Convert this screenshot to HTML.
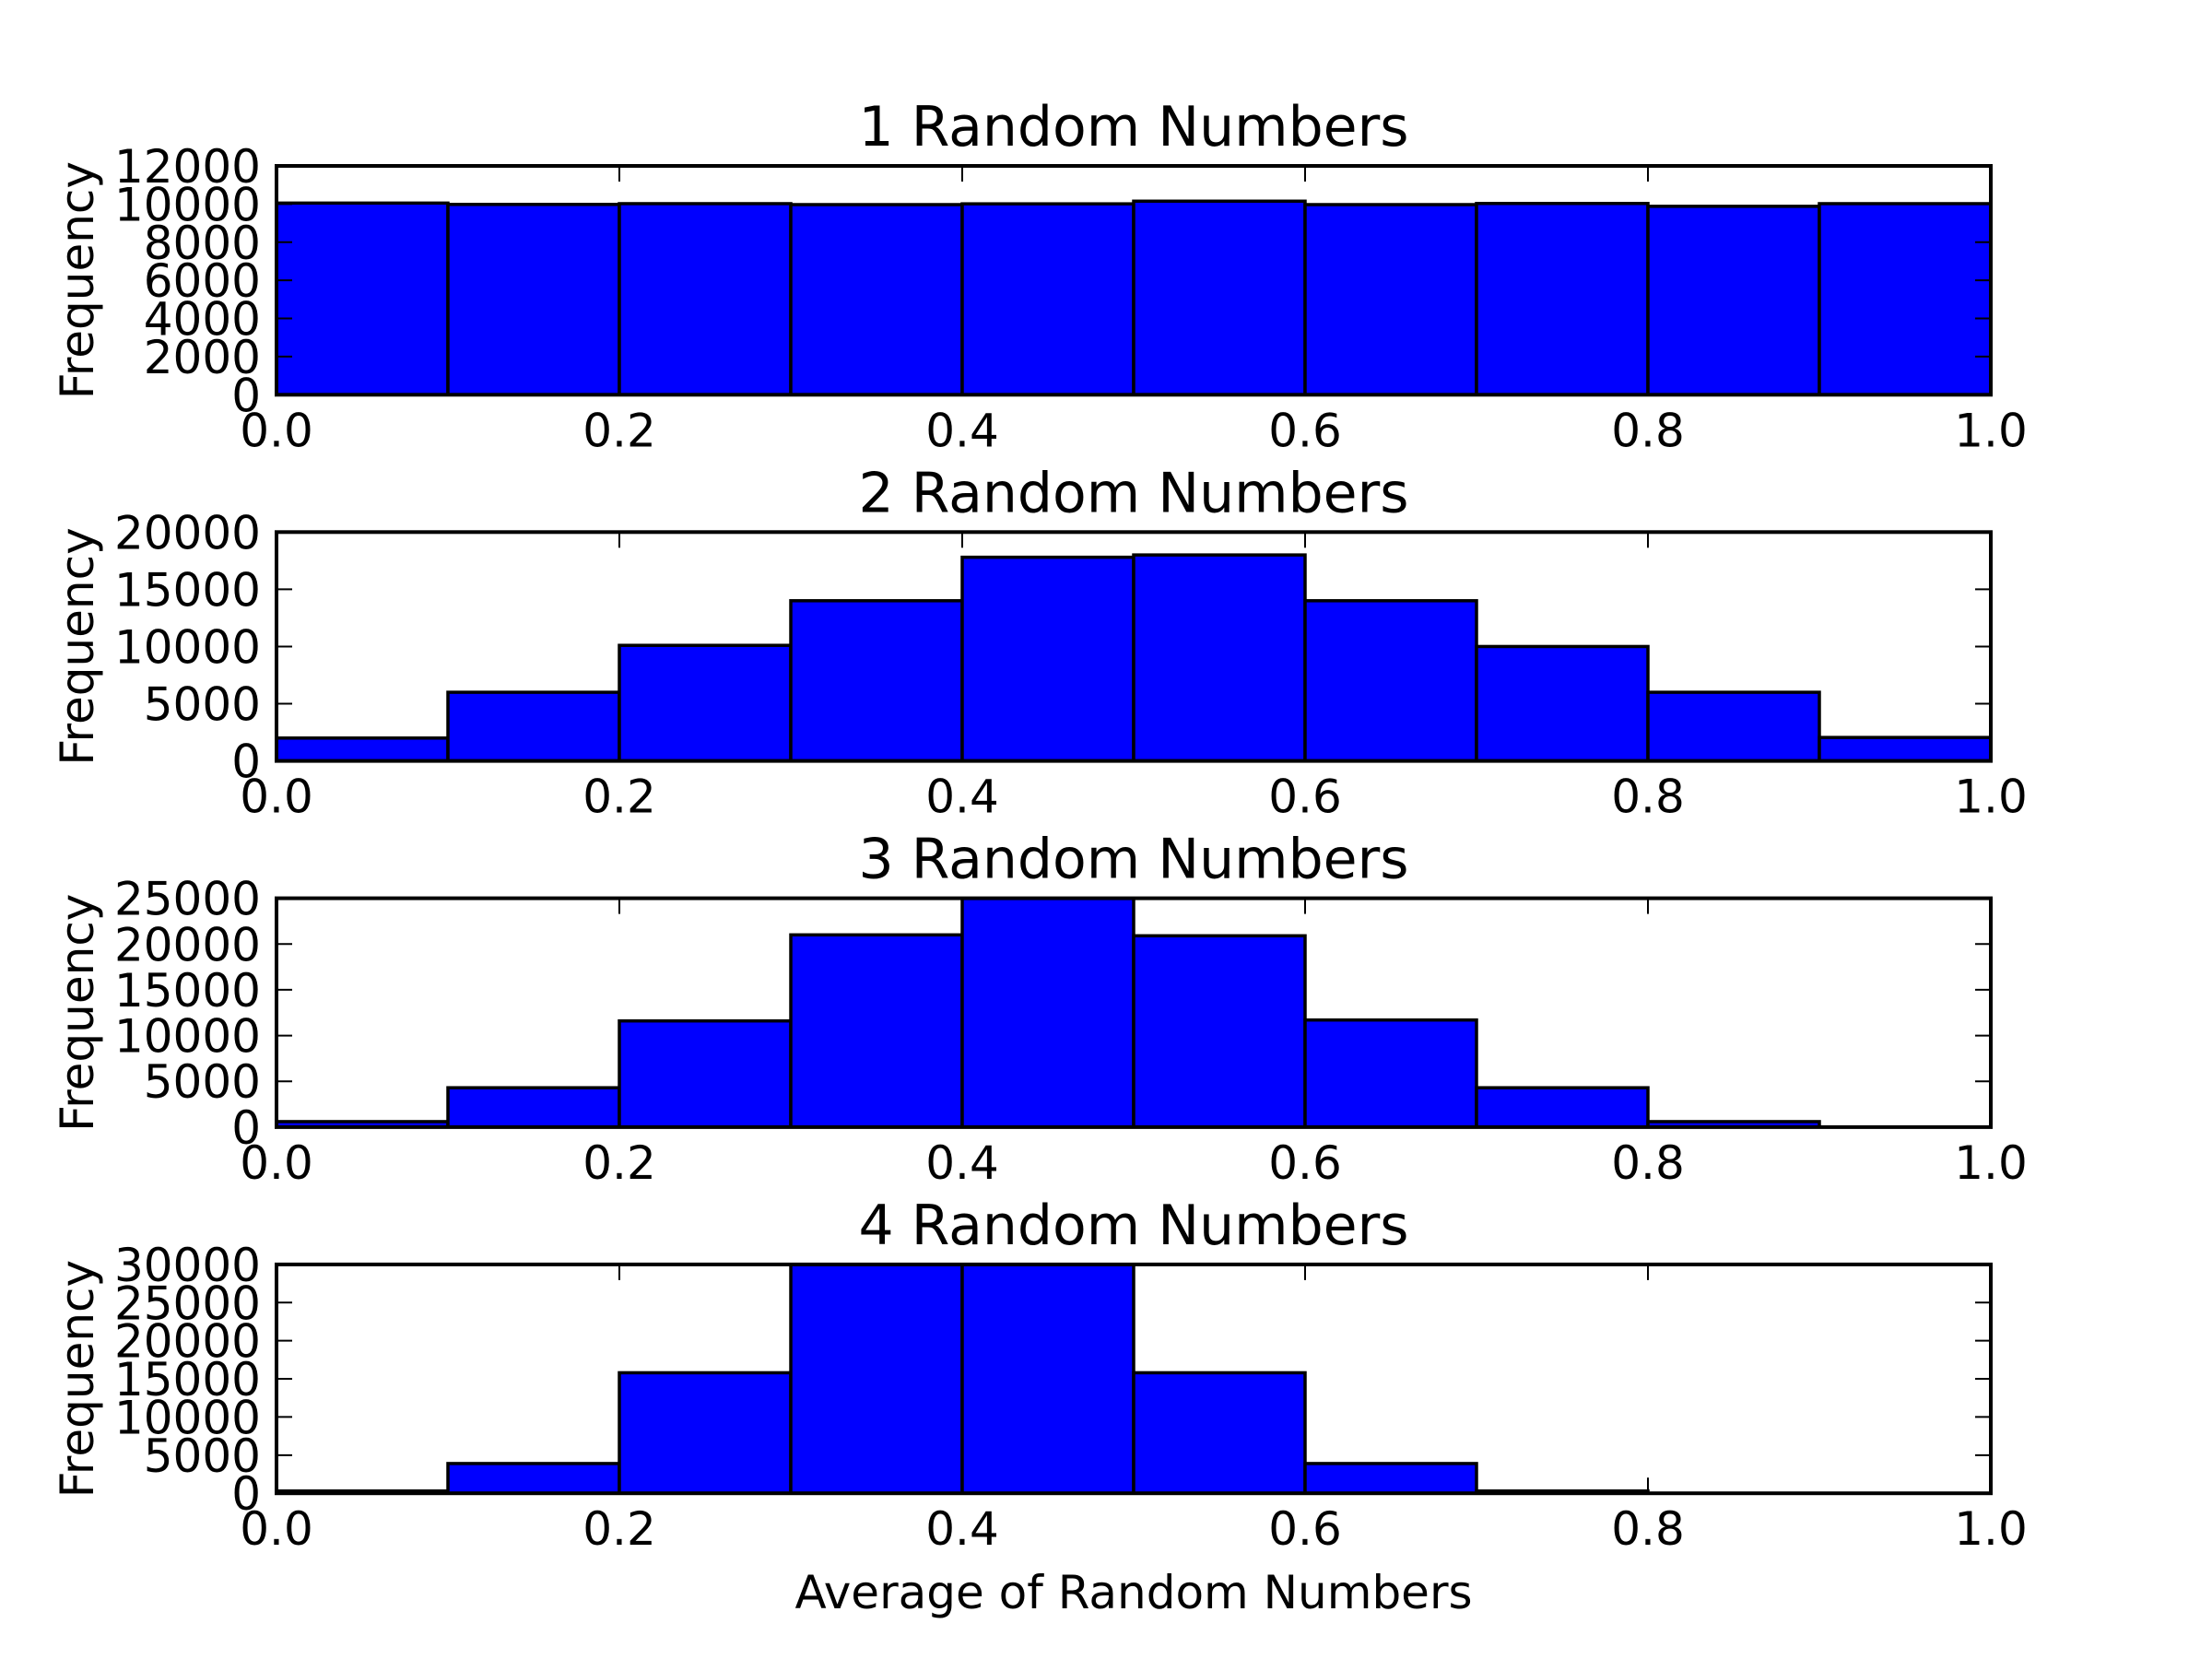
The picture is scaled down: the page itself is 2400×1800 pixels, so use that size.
<!DOCTYPE html>
<html><head><meta charset="utf-8"><style>
html,body{margin:0;padding:0;background:#fff;}
svg{display:block;}
text{font-family:"DejaVu Sans","Liberation Sans",sans-serif;fill:#000;}
</style></head><body>
<svg id="chart" width="2400" height="1800" viewBox="0 0 2400 1800" xmlns="http://www.w3.org/2000/svg"></svg>
<script>
const binEdges = [0,0.1,0.2,0.3,0.4,0.5,0.6,0.7,0.8,0.9,1.0];
const titles = ["1 Random Numbers","2 Random Numbers","3 Random Numbers","4 Random Numbers"];
const counts1 = [10050,9980,10020,9970,10010,10150,9970,10030,9880,10020];
const counts2 = [2000,6000,10100,14000,17800,18000,14000,10000,6000,2050];
const counts3 = [600,4300,11600,21000,25000,20900,11700,4300,600,0];
const counts4 = [300,3900,15800,31000,30500,15800,3900,300,0,0];
const yMax = [12000,20000,25000,30000];
const yTicks1 = [0,2000,4000,6000,8000,10000,12000];
const yTicks2 = [0,5000,10000,15000,20000];
const yTicks3 = [0,5000,10000,15000,20000,25000];
const yTicks4 = [0,5000,10000,15000,20000,25000,30000];
const xTicks = [0,0.2,0.4,0.6,0.8,1.0];
const xTickLabels = ["0.0","0.2","0.4","0.6","0.8","1.0"];

const allCounts=[counts1,counts2,counts3,counts4];
const allYTicks=[yTicks1,yTicks2,yTicks3,yTicks4];
const NS="http://www.w3.org/2000/svg";
const svg=document.getElementById('chart');
const L=300,R=2160,H=248.3,STEP=397.3,TOP0=180;
function mk(tag,attrs,parent){const e=document.createElementNS(NS,tag);for(const k in attrs)e.setAttribute(k,attrs[k]);(parent||svg).appendChild(e);return e;}
const xs=v=>L+(R-L)*v;

for(let p=0;p<4;p++){
  const top=TOP0+p*STEP, bot=top+H;
  const ys=v=>bot-H*Math.min(v,yMax[p])/yMax[p];
  const g=mk('g',{});
  
  
  const clipId='clip'+p;
  const cp=mk('clipPath',{id:clipId},g);
  mk('rect',{x:L,y:top,width:R-L,height:H},cp);
  const bars=mk('g',{'clip-path':'url(#'+clipId+')'},g);
  const c=allCounts[p];
  for(let i=0;i<c.length;i++){
    const x0=xs(binEdges[i]),x1=xs(binEdges[i+1]),y=ys(c[i]);
    const r=mk('rect',{x:x0,y:y,width:x1-x0,height:bot-y,fill:'#0000ff',stroke:'#000','stroke-width':3.5},bars);
    
    
  }
  const tg=mk('g',{stroke:'#000','stroke-width':2},g);
  xTicks.forEach((v,i)=>{
    const x=xs(v);
    mk('line',{x1:x,y1:bot,x2:x,y2:bot-17},tg);
    mk('line',{x1:x,y1:top,x2:x,y2:top+17},tg);
    const t=mk('text',{x:x,y:bot+56,'font-size':50,'text-anchor':'middle'},g);
    t.textContent=xTickLabels[i];
    
    
  });
  allYTicks[p].forEach(v=>{
    const y=ys(v);
    mk('line',{x1:L,y1:y,x2:L+17,y2:y},tg);
    mk('line',{x1:R,y1:y,x2:R-17,y2:y},tg);
    const t=mk('text',{x:283,y:y+18,'font-size':50,'text-anchor':'end'},g);
    t.textContent=String(v);
    
    
  });
  const fr=mk('rect',{x:L,y:top,width:R-L,height:H,fill:'none',stroke:'#000','stroke-width':4},g);
  
  
  const tt=mk('text',{x:(L+R)/2,y:top-22,'font-size':60,'text-anchor':'middle'},g);
  tt.textContent=titles[p];
  
  
  const yl=mk('text',{x:0,y:0,'font-size':50,'text-anchor':'middle',transform:'translate(101,'+(top+H/2)+') rotate(-90)'},g);
  yl.textContent='Frequency';
  
  
}
const xl=mk('text',{x:(L+R)/2,y:1745,'font-size':50,'text-anchor':'middle'});
xl.textContent='Average of Random Numbers';


</script>
</body></html>
